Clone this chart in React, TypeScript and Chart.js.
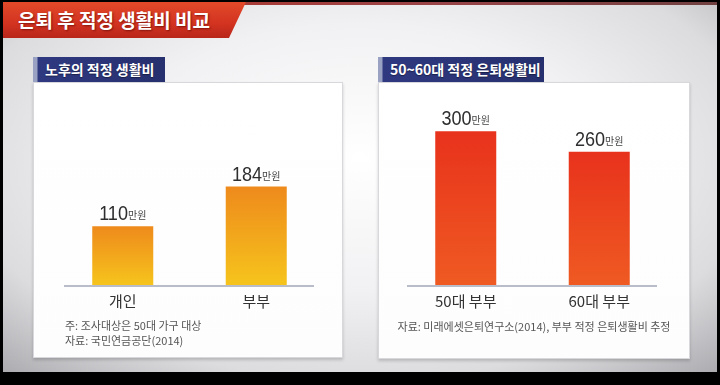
import React, { useEffect, useRef } from "react";
import { Chart, registerables } from "chart.js";

Chart.register(...registerables);

const titleText = "은퇴 후 적정 생활비 비교";
const leftHeader = "노후의 적정 생활비";
const rightHeader = "50~60대 적정 은퇴생활비";
const leftCategories = ["개인", "부부"];
const leftValues = [110, 184];
const rightCategories = ["50대 부부", "60대 부부"];
const rightValues = [300, 260];
const valueUnit = "만원";
const leftNotes = ["주: 조사대상은 50대 가구 대상", "자료: 국민연금공단(2014)"];
const rightNotes = ["자료: 미래에셋은퇴연구소(2014), 부부 적정 은퇴생활비 추정"];

const KR = "'Noto Sans CJK KR', 'Noto Sans', sans-serif";

const valueLabelPlugin = {
  id: "valueLabels",
  afterDatasetsDraw(chart: any) {
    const ctx = chart.ctx as CanvasRenderingContext2D;
    const meta = chart.getDatasetMeta(0);
    meta.data.forEach((bar: any, i: number) => {
      const v = String(chart.data.datasets[0].data[i]);
      const sx = 0.86;
      ctx.save();
      ctx.font = "21px 'Liberation Sans', Arial, sans-serif";
      const numW = ctx.measureText(v).width * sx;
      ctx.font = `10px ${KR}`;
      const unitW = ctx.measureText(valueUnit).width;
      const gap = 0;
      const total = numW + gap + unitW;
      const x0 = bar.x - total / 2;
      const yb = bar.y - 6;
      ctx.textBaseline = "alphabetic";
      ctx.textAlign = "left";
      ctx.save();
      ctx.translate(x0, yb);
      ctx.scale(sx, 1);
      ctx.font = "21px 'Liberation Sans', Arial, sans-serif";
      ctx.fillStyle = "#2e2e30";
      ctx.fillText(v, 0, 0);
      ctx.restore();
      ctx.font = `10px ${KR}`;
      ctx.fillStyle = "#444";
      ctx.fillText(valueUnit, x0 + numW + gap, yb - 1);
      ctx.restore();
    });
  },
};

const baselinePlugin = {
  id: "baseline",
  beforeDatasetsDraw(chart: any) {
    const ctx = chart.ctx as CanvasRenderingContext2D;
    const area = chart.chartArea;
    const y = Math.round(chart.scales.y.getPixelForValue(0)) + 1;
    ctx.save();
    ctx.strokeStyle = "#b9bdca";
    ctx.lineWidth = 2;
    ctx.beginPath();
    ctx.moveTo(area.left + 8, y);
    ctx.lineTo(area.right - 9, y);
    ctx.stroke();
    ctx.restore();
  },
};

type PanelProps = {
  categories: string[];
  values: number[];
  yMax: number;
  topColor: string;
  bottomColor: string;
  width: number;
  height: number;
  padding: { left: number; right: number; top: number; bottom: number };
  style: React.CSSProperties;
};

function BarChart(p: PanelProps) {
  const ref = useRef<HTMLCanvasElement>(null);
  useEffect(() => {
    const chart = new Chart(ref.current as HTMLCanvasElement, {
      type: "bar",
      data: {
        labels: p.categories,
        datasets: [
          {
            data: p.values,
            barPercentage: 0.457,
            categoryPercentage: 1,
            backgroundColor: (c: any) => {
              const ch = c.chart;
              if (!ch.chartArea || c.parsed == null) return p.topColor;
              const yTop = ch.scales.y.getPixelForValue(c.parsed.y);
              const y0 = ch.scales.y.getPixelForValue(0);
              const g = ch.ctx.createLinearGradient(0, yTop, 0, y0);
              g.addColorStop(0, p.topColor);
              g.addColorStop(1, p.bottomColor);
              return g;
            },
          },
        ],
      },
      options: {
        animation: false,
        responsive: false,
        layout: { padding: p.padding },
        plugins: { legend: { display: false }, tooltip: { enabled: false } },
        scales: {
          x: {
            grid: { display: false, drawTicks: false },
            border: { display: false },
            ticks: { color: "#333", font: { family: KR, size: 15 }, padding: 7 },
          },
          y: { display: false, min: 0, max: p.yMax },
        },
      },
      plugins: [baselinePlugin, valueLabelPlugin],
    });
    return () => chart.destroy();
  }, []);
  return <canvas ref={ref} width={p.width} height={p.height} style={{ position: "absolute", ...p.style }} />;
}

const headerStyle = (left: number, width: number): React.CSSProperties => ({
  position: "absolute",
  left,
  top: 57,
  width,
  height: 25,
  background: "linear-gradient(90deg, #9aa2c4 0px, #9aa2c4 4px, #2f3980 5px, #27306e 100%)",
  color: "#fff",
  fontFamily: KR,
  fontWeight: 700,
  fontSize: 14,
  lineHeight: "25px",
  paddingLeft: 12,
  boxSizing: "border-box",
  whiteSpace: "nowrap",
  textShadow: "0 1px 1px rgba(0,0,0,0.4)",
});

const panelStyle = (left: number, width: number, height: number): React.CSSProperties => ({
  position: "absolute",
  left,
  top: 82,
  width,
  height,
  background: "linear-gradient(180deg, #ffffff 0%, #fdfdfd 100%)",
  border: "1px solid #d8d8dc",
  boxShadow: "0 2px 3px rgba(0,0,0,0.18)",
  boxSizing: "border-box",
});

const noteStyle: React.CSSProperties = {
  position: "absolute",
  fontFamily: KR,
  fontSize: 11,
  color: "#555",
  lineHeight: "15px",
  whiteSpace: "nowrap",
};

export default function App() {
  return (
    <div style={{ position: "fixed", left: 0, top: 0, width: 720, height: 385, background: "#000", overflow: "hidden" }}>
      <div
        style={{
          position: "absolute",
          left: 3,
          top: 2,
          width: 714,
          height: 370,
          background:
            "radial-gradient(ellipse 75% 80% at 50% 42%, #ffffff 0%, #f1f1f3 45%, #dcdcdf 75%, #a9a9ad 100%)",
        }}
      />
      <div
        style={{
          position: "absolute",
          left: 3,
          top: 2,
          width: 714,
          height: 3,
          background: "linear-gradient(90deg, #b83020, #9a4448 60%, #704040)",
        }}
      />
      <div
        style={{
          position: "absolute",
          left: 3,
          top: 2,
          width: 243,
          height: 36,
          background: "linear-gradient(180deg, #e24a2a 0%, #d33320 60%, #b8261a 100%)",
          clipPath: "polygon(0 0, 100% 0, 93% 100%, 0 100%)",
        }}
      />
      <div
        style={{
          position: "absolute",
          left: 18,
          top: 4,
          height: 32,
          lineHeight: "32px",
          color: "#fff",
          fontFamily: KR,
          fontWeight: 700,
          fontSize: 19,
          whiteSpace: "nowrap",
          textShadow: "1px 1px 2px rgba(80,0,0,0.6)",
        }}
      >
        {titleText}
      </div>

      <div style={panelStyle(33, 310, 276)} />
      <div style={headerStyle(33, 132)}>{leftHeader}</div>
      <div style={panelStyle(378, 312, 277)} />
      <div style={headerStyle(378, 166)}>{rightHeader}</div>

      <BarChart
        categories={leftCategories}
        values={leftValues}
        yMax={342}
        topColor="#ee8a1c"
        bottomColor="#f6c41c"
        width={310}
        height={241}
        padding={{ left: 23, right: 20, top: 20, bottom: 6 }}
        style={{ left: 33, top: 82 }}
      />
      <BarChart
        categories={rightCategories}
        values={rightValues}
        yMax={357}
        topColor="#e8321c"
        bottomColor="#ef5a22"
        width={312}
        height={241}
        padding={{ left: 21, right: 24, top: 20, bottom: 6 }}
        style={{ left: 378, top: 82 }}
      />

      <div style={{ ...noteStyle, left: 65, top: 318 }}>
        {leftNotes.map((t) => (
          <div key={t}>{t}</div>
        ))}
      </div>
      <div style={{ ...noteStyle, left: 378, width: 312, top: 319, textAlign: "center" }}>
        {rightNotes.map((t) => (
          <div key={t}>{t}</div>
        ))}
      </div>
    </div>
  );
}
